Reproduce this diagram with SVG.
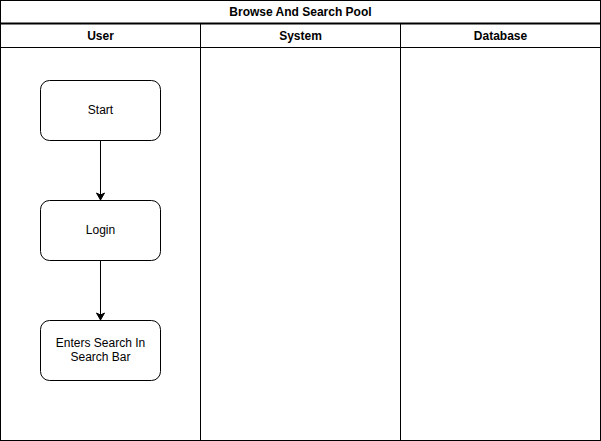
<svg xmlns="http://www.w3.org/2000/svg" width="601" height="441" viewBox="0 0 601 441">
<style>
.ln{fill:none;stroke:#000;stroke-width:1}
.hd{font-family:"Liberation Sans",Arial,sans-serif;font-size:12px;font-weight:bold;fill:#000;text-anchor:middle}
.nd{fill:#fff;stroke:#000;stroke-width:1}
.tx{font-family:"Liberation Sans",Arial,sans-serif;font-size:12px;fill:#000;text-anchor:middle}
</style>
<defs>
<marker id="arr" markerWidth="10" markerHeight="10" refX="8" refY="5" orient="auto" markerUnits="userSpaceOnUse">
<path d="M1,1 L8,5 L1,9 L3,5 Z" fill="#000" stroke="#000" stroke-width="1"/>
</marker>
</defs>
<rect width="601" height="441" fill="#fff"/>
<g id="pool">
<rect x="0.5" y="0.5" width="600" height="440" class="ln"/>
<line x1="0" y1="23.5" x2="601" y2="23.5" stroke="#000" stroke-width="2"/>
<text x="300.5" y="16" class="hd">Browse And Search Pool</text>
<line x1="0.5" y1="47.5" x2="600.5" y2="47.5" class="ln"/>
<line x1="200.5" y1="24" x2="200.5" y2="440.5" class="ln"/>
<line x1="400.5" y1="24" x2="400.5" y2="440.5" class="ln"/>
<text x="100.5" y="40" class="hd">User</text>
<text x="300.5" y="40" class="hd">System</text>
<text x="500.5" y="40" class="hd">Database</text>
</g>
<g id="connectors">
<line x1="100.5" y1="140.5" x2="100.5" y2="200" class="ln" marker-end="url(#arr)"/>
<line x1="100.5" y1="260.5" x2="100.5" y2="320" class="ln" marker-end="url(#arr)"/>
</g>
<g id="start">
<rect x="40.5" y="80.5" width="120" height="60" rx="9" class="nd"/>
<text x="100.5" y="114" class="tx">Start</text>
</g>
<g id="login">
<rect x="40.5" y="200.5" width="120" height="60" rx="9" class="nd"/>
<text x="100.5" y="234" class="tx">Login</text>
</g>
<g id="search">
<rect x="40.5" y="320.5" width="120" height="60" rx="9" class="nd"/>
<text x="100.5" y="347" class="tx">Enters Search In</text>
<text x="100.5" y="361" class="tx">Search Bar</text>
</g>
</svg>
